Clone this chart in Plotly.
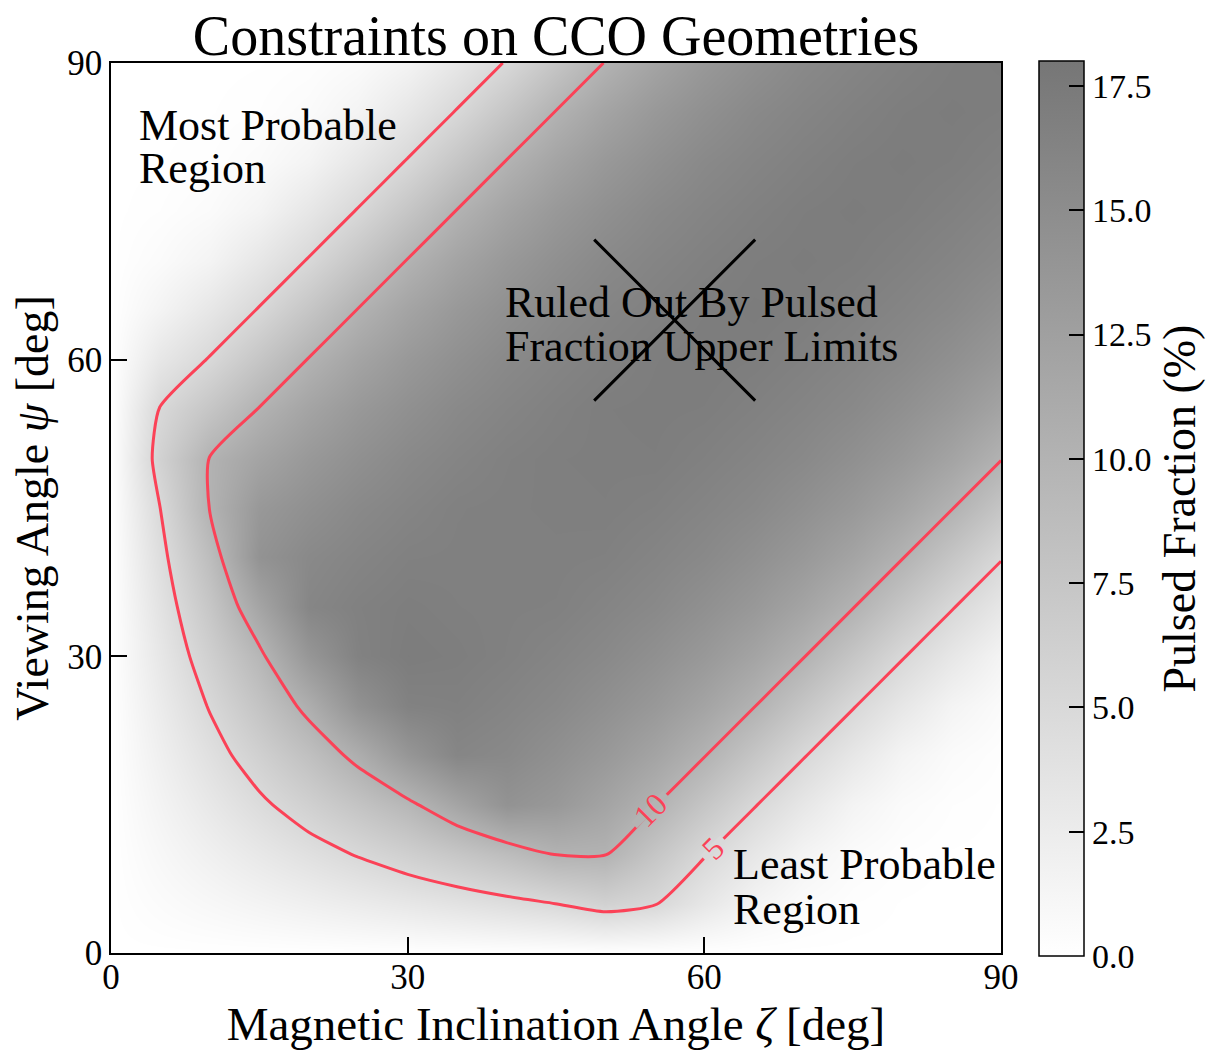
import plotly.graph_objects as go

# Grid of magnetic inclination (zeta) and viewing angle (psi), degrees
zeta_deg = [0, 5, 10, 15, 20, 25, 30, 35, 40, 45, 50, 55, 60, 65, 70, 75, 80, 85, 90]
psi_deg = [0, 5, 10, 15, 20, 25, 30, 35, 40, 45, 50, 55, 60, 65, 70, 75, 80, 85, 90]

# Pulsed fraction (%) on the grid: one row per psi value, one column per zeta value
pulsed_fraction = [
    [0, 0, 0, 0, 0, 0, 0, 0, 0, 0, 0, 0, 0, 0, 0, 0, 0, 0, 0],
    [0, 0.50, 1.00, 1.51, 2.04, 2.57, 3.14, 3.72, 4.35, 5.02, 6.0, 5.15, 3.2, 1.5, 0.6, 0.2, 0.05, 0, 0],
    [0, 1.00, 2.01, 3.03, 4.08, 5.16, 6.29, 7.47, 8.72, 10.09, 10.1, 7.6, 5.15, 3.2, 1.5, 0.6, 0.2, 0.05, 0],
    [0, 1.51, 3.03, 4.58, 6.16, 7.80, 9.49, 11.86, 14.23, 13.5, 12.0, 10.1, 7.6, 5.15, 3.2, 1.5, 0.6, 0.2, 0.05],
    [0, 2.04, 4.08, 6.16, 8.29, 10.71, 13.77, 15.92, 15.5, 14.6, 13.5, 12.0, 10.1, 7.6, 5.15, 3.2, 1.5, 0.6, 0.2],
    [0, 2.57, 5.16, 7.80, 10.71, 14.35, 16.44, 16.6, 16.1, 15.5, 14.6, 13.5, 12.0, 10.1, 7.6, 5.15, 3.2, 1.5, 0.6],
    [0, 3.14, 6.29, 9.49, 13.77, 16.44, 17.15, 16.96, 16.6, 16.1, 15.5, 14.6, 13.5, 12.0, 10.1, 7.6, 5.15, 3.2, 1.5],
    [0, 3.72, 7.47, 11.86, 15.92, 16.6, 16.96, 16.76, 16.67, 16.6, 16.1, 15.5, 14.6, 13.5, 12.0, 10.1, 7.6, 5.15, 3.2],
    [0, 4.35, 8.72, 14.23, 15.5, 16.1, 16.6, 16.67, 16.64, 16.71, 16.6, 16.1, 15.5, 14.6, 13.5, 12.0, 10.1, 7.6, 5.15],
    [0, 5.02, 10.09, 13.5, 14.6, 15.5, 16.1, 16.6, 16.71, 16.8, 16.87, 16.6, 16.1, 15.5, 14.6, 13.5, 12.0, 10.1, 7.6],
    [0, 6.0, 10.1, 12.0, 13.5, 14.6, 15.5, 16.1, 16.6, 16.87, 16.94, 17.0, 16.6, 16.1, 15.5, 14.6, 13.5, 12.0, 10.1],
    [0, 5.15, 7.6, 10.1, 12.0, 13.5, 14.6, 15.5, 16.1, 16.6, 17.0, 17.1, 17.0, 16.6, 16.1, 15.5, 14.6, 13.5, 12.0],
    [0, 3.2, 5.15, 7.6, 10.1, 12.0, 13.5, 14.6, 15.5, 16.1, 16.6, 17.0, 17.2, 17.0, 16.6, 16.1, 15.5, 14.6, 13.5],
    [0, 1.5, 3.2, 5.15, 7.6, 10.1, 12.0, 13.5, 14.6, 15.5, 16.1, 16.6, 17.0, 17.2, 17.0, 16.6, 16.1, 15.5, 14.6],
    [0, 0.6, 1.5, 3.2, 5.15, 7.6, 10.1, 12.0, 13.5, 14.6, 15.5, 16.1, 16.6, 17.0, 17.2, 17.0, 16.6, 16.1, 15.5],
    [0, 0.2, 0.6, 1.5, 3.2, 5.15, 7.6, 10.1, 12.0, 13.5, 14.6, 15.5, 16.1, 16.6, 17.0, 17.2, 17.0, 16.6, 16.1],
    [0, 0.05, 0.2, 0.6, 1.5, 3.2, 5.15, 7.6, 10.1, 12.0, 13.5, 14.6, 15.5, 16.1, 16.6, 17.0, 17.2, 17.0, 16.6],
    [0, 0, 0.05, 0.2, 0.6, 1.5, 3.2, 5.15, 7.6, 10.1, 12.0, 13.5, 14.6, 15.5, 16.1, 16.6, 17.0, 17.2, 17.0],
    [0, 0, 0, 0.05, 0.2, 0.6, 1.5, 3.2, 5.15, 7.6, 10.1, 12.0, 13.5, 14.6, 15.5, 16.1, 16.6, 17.0, 17.2],
]

# Pulsed-fraction levels drawn as contours, and where each level is labelled
contour_levels = [5, 10]
contour_label_zeta = [60.9, 54.5]
contour_label_psi = [10.6, 14.5]

# Geometry excluded by the upper limits, marked with a cross
excluded_zeta = [57]
excluded_psi = [64]

# Colour bar ticks
cbar_ticks = [0, 2.5, 5, 7.5, 10, 12.5, 15, 17.5]
cbar_ticktext = ["0.0", "2.5", "5.0", "7.5", "10.0", "12.5", "15.0", "17.5"]
axis_ticks = [0, 30, 60, 90]

FONT = "Liberation Serif"
RED = "#fb4257"
Z_MAX = 18
GREY_LOW, GREY_HIGH = 255, 118


def level_grey(value):
    """Heat-map colour at a given pulsed fraction (linear white -> grey)."""
    g = round(GREY_LOW - (GREY_LOW - GREY_HIGH) * value / Z_MAX)
    return f"rgb({g},{g},{g})"


fig = go.Figure()

fig.add_trace(go.Heatmap(
    x=zeta_deg, y=psi_deg, z=pulsed_fraction,
    zmin=0, zmax=Z_MAX, zsmooth="best",
    colorscale=[[0, level_grey(0)], [1, level_grey(Z_MAX)]],
    hoverinfo="skip",
    colorbar=dict(
        thickness=45, thicknessmode="pixels",
        len=895, lenmode="pixels",
        x=1.0427, xanchor="left", xpad=0,
        y=0.4994, yanchor="middle", ypad=0,
        outlinewidth=1.5, outlinecolor="black",
        tickvals=cbar_ticks, ticktext=cbar_ticktext,
        ticks="inside", ticklen=15, tickwidth=1.5, tickcolor="black",
        tickfont=dict(size=34, family=FONT, color="black"),
        title=dict(text="Pulsed Fraction (%)", side="right",
                   font=dict(size=46, family=FONT, color="black")),
    ),
))

fig.add_trace(go.Contour(
    x=zeta_deg, y=psi_deg, z=pulsed_fraction,
    autocontour=False,
    contours=dict(start=contour_levels[0], end=contour_levels[-1],
                  size=contour_levels[1] - contour_levels[0],
                  coloring="none", showlabels=False),
    line=dict(color=RED, width=3, smoothing=0.6),
    showscale=False, hoverinfo="skip",
))

fig.add_trace(go.Scatter(
    x=excluded_zeta, y=excluded_psi, mode="markers",
    marker=dict(symbol="x-thin", size=161, color="black",
                line=dict(width=3, color="black")),
    hoverinfo="skip", showlegend=False,
))

# Inline contour labels: a short strip in the level's own colour breaks the
# line under each label, then the value is written along the line
label_half = {5: 1.0, 10: 1.6}
for level, lx, ly in zip(contour_levels, contour_label_zeta, contour_label_psi):
    h = label_half[level]
    fig.add_shape(type="line", layer="above",
                  x0=lx - h, y0=ly - h, x1=lx + h, y1=ly + h,
                  line=dict(color=level_grey(level), width=8))
    fig.add_annotation(x=lx, y=ly, text=str(level), showarrow=False,
                       textangle=-45, xanchor="center", yanchor="middle",
                       font=dict(size=32, family=FONT, color=RED))

annotations = [
    ("Most Probable", 2.6, 83.7),
    ("Region", 2.6, 79.3),
    ("Ruled Out By Pulsed", 39.6, 65.8),
    ("Fraction Upper Limits", 39.6, 61.3),
    ("Least Probable", 62.7, 8.9),
    ("Region", 62.7, 4.4),
]
for text, ax, ay in annotations:
    fig.add_annotation(x=ax, y=ay, text=text, showarrow=False,
                       xanchor="left", yanchor="middle",
                       font=dict(size=44, family=FONT, color="black"))

axis_common = dict(
    range=[0, 90], tickvals=axis_ticks, automargin=False,
    ticks="inside", ticklen=16, tickwidth=1.5, tickcolor="black",
    showline=True, linecolor="black", linewidth=1.5, mirror=True,
    showgrid=False, zeroline=False,
    tickfont=dict(size=35, family=FONT, color="black"),
)

fig.update_layout(
    width=1214, height=1050,
    margin=dict(l=111, r=213, t=63, b=97, autoexpand=False),
    paper_bgcolor="white", plot_bgcolor="white",
    font=dict(family=FONT, color="black"),
    title=dict(text="Constraints on CCO Geometries",
               x=556 / 1214, xanchor="center", y=1 - 35 / 1050, yanchor="middle",
               font=dict(size=56, family=FONT, color="black")),
    xaxis=dict(axis_common, ticklabelstandoff=-8,
               title=dict(text="Magnetic Inclination Angle <i>ζ</i> [deg]",
                          font=dict(size=47, family=FONT), standoff=12)),
    yaxis=dict(axis_common,
               title=dict(text="Viewing Angle <i>ψ</i> [deg]",
                          font=dict(size=46, family=FONT), standoff=4)),
    showlegend=False,
)

fig.write_html("out.html")
